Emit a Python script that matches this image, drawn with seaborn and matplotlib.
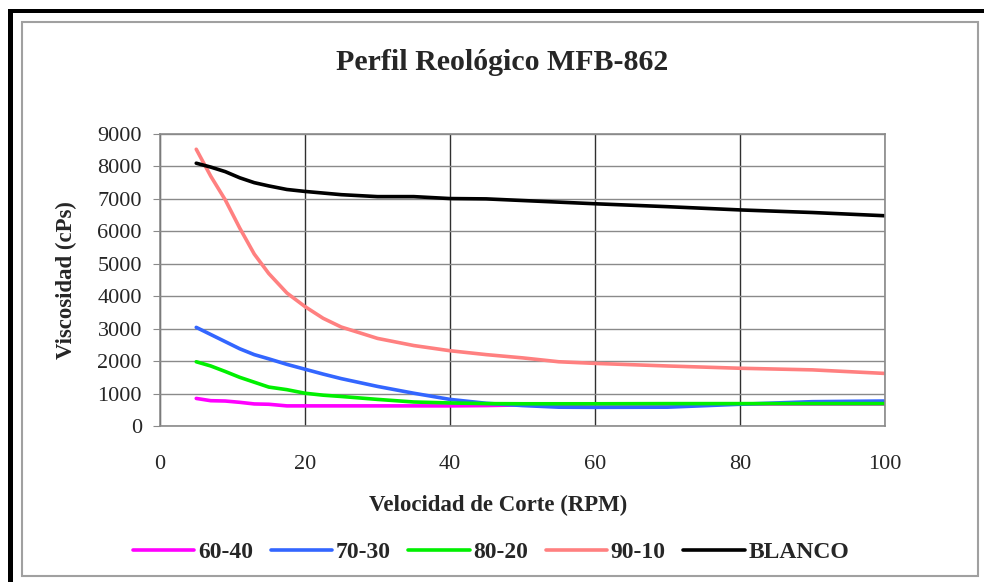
import matplotlib
matplotlib.use("Agg")
import matplotlib.pyplot as plt
from matplotlib.patches import Rectangle
import seaborn as sns
import pandas as pd

rpm = [5, 7, 9, 11, 13, 15, 17.5, 20, 22.5, 25, 30, 35, 40, 45, 50, 55, 60, 70, 80, 90, 100]
s_60_40 = [850, 780, 770, 730, 680, 670, 620, 620, 620, 620, 620, 620, 620, 630, 650, 660, 680, 680, 680, 680, 680]
s_70_30 = [3040, 2820, 2600, 2380, 2200, 2070, 1900, 1750, 1600, 1460, 1220, 1010, 820, 700, 630, 580, 575, 580, 670, 750, 770]
s_80_20 = [1980, 1850, 1680, 1500, 1350, 1200, 1120, 1010, 950, 910, 820, 740, 710, 690, 685, 685, 685, 690, 690, 690, 690]
s_90_10 = [8530, 7700, 6970, 6100, 5300, 4700, 4100, 3680, 3320, 3050, 2700, 2480, 2320, 2200, 2100, 1980, 1930, 1850, 1780, 1730, 1620]
s_blanco = [8100, 7980, 7840, 7650, 7500, 7400, 7290, 7230, 7180, 7130, 7070, 7070, 7010, 7000, 6950, 6900, 6850, 6760, 6660, 6580, 6480]

series_names = ["60-40", "70-30", "80-20", "90-10", "BLANCO"]
series_vals = [s_60_40, s_70_30, s_80_20, s_90_10, s_blanco]
colors = ["#FF00FF", "#3366FF", "#00F000", "#FF8080", "#000000"]

x_ticks = [0, 20, 40, 60, 80, 100]
y_ticks = [0, 1000, 2000, 3000, 4000, 5000, 6000, 7000, 8000, 9000]

rows = []
for name, vals in zip(series_names, series_vals):
    for x, v in zip(rpm, vals):
        rows.append({"RPM": x, "Viscosidad": v, "Serie": name})
df = pd.DataFrame(rows)

sns.set_style("white")
plt.rcParams["font.family"] = ["Liberation Serif", "DejaVu Serif"]

W, H = 984, 582
fig = plt.figure(figsize=(W / 100, H / 100), dpi=100)
ax = fig.add_axes([160 / W, 1 - 426 / H, 725 / W, 292 / H])

sns.lineplot(data=df, x="RPM", y="Viscosidad", hue="Serie", hue_order=series_names,
             palette=dict(zip(series_names, colors)), estimator=None, sort=False,
             linewidth=2.6, ax=ax, legend=True)

ax.set_xlim(0, 100)
ax.set_ylim(0, 9000)
ax.set_xticks(x_ticks)
ax.set_yticks(y_ticks)
ax.set_xticklabels([str(t) for t in x_ticks], fontsize=16)
ax.set_yticklabels([str(t) for t in y_ticks], fontsize=16)

ax.yaxis.grid(True, color="#8A8A8A", linewidth=1.0)
ax.xaxis.grid(True, color="#303030", linewidth=1.0)
ax.set_axisbelow(True)
for sp in ax.spines.values():
    sp.set_color("#8A8A8A")
    sp.set_linewidth(1.2)
ax.tick_params(axis="y", length=5, color="#8A8A8A", pad=8, left=True)
ax.tick_params(axis="x", length=0, pad=21)

ax.set_xlabel("Velocidad de Corte (RPM)", fontsize=16.5, fontweight="bold")
ax.set_ylabel("Viscosidad (cPs)", fontsize=16.5, fontweight="bold")
ax.xaxis.set_label_coords((498 - 160) / 725, -0.235)
ax.yaxis.set_label_coords(-0.115, 0.5)

fig.text(502 / W, 1 - 62 / H, "Perfil Reológico MFB-862", ha="center", va="center",
         fontsize=21.5, fontweight="bold")

handles, labels = ax.get_legend_handles_labels()
ax.legend_.remove()
fig.legend(handles, labels, loc="center", bbox_to_anchor=(491 / W, 1 - 552 / H),
           ncol=5, frameon=False, handlelength=2.6, handletextpad=0.15,
           columnspacing=0.75, prop={"size": 17, "weight": "bold"})

# borders
fig.patches.append(Rectangle((22 / W, 1 - 576 / H), 956 / W, 554 / H, transform=fig.transFigure,
                             fill=False, edgecolor="#A0A0A0", linewidth=1.5))
fig.patches.append(Rectangle((8 / W, 0), 5 / W, 1 - 9 / H, transform=fig.transFigure,
                             facecolor="black", edgecolor="none"))
fig.patches.append(Rectangle((8 / W, 1 - 13 / H), 1 - 8 / W, 4 / H, transform=fig.transFigure,
                             facecolor="black", edgecolor="none"))

fig.savefig("out.png", dpi=100)
